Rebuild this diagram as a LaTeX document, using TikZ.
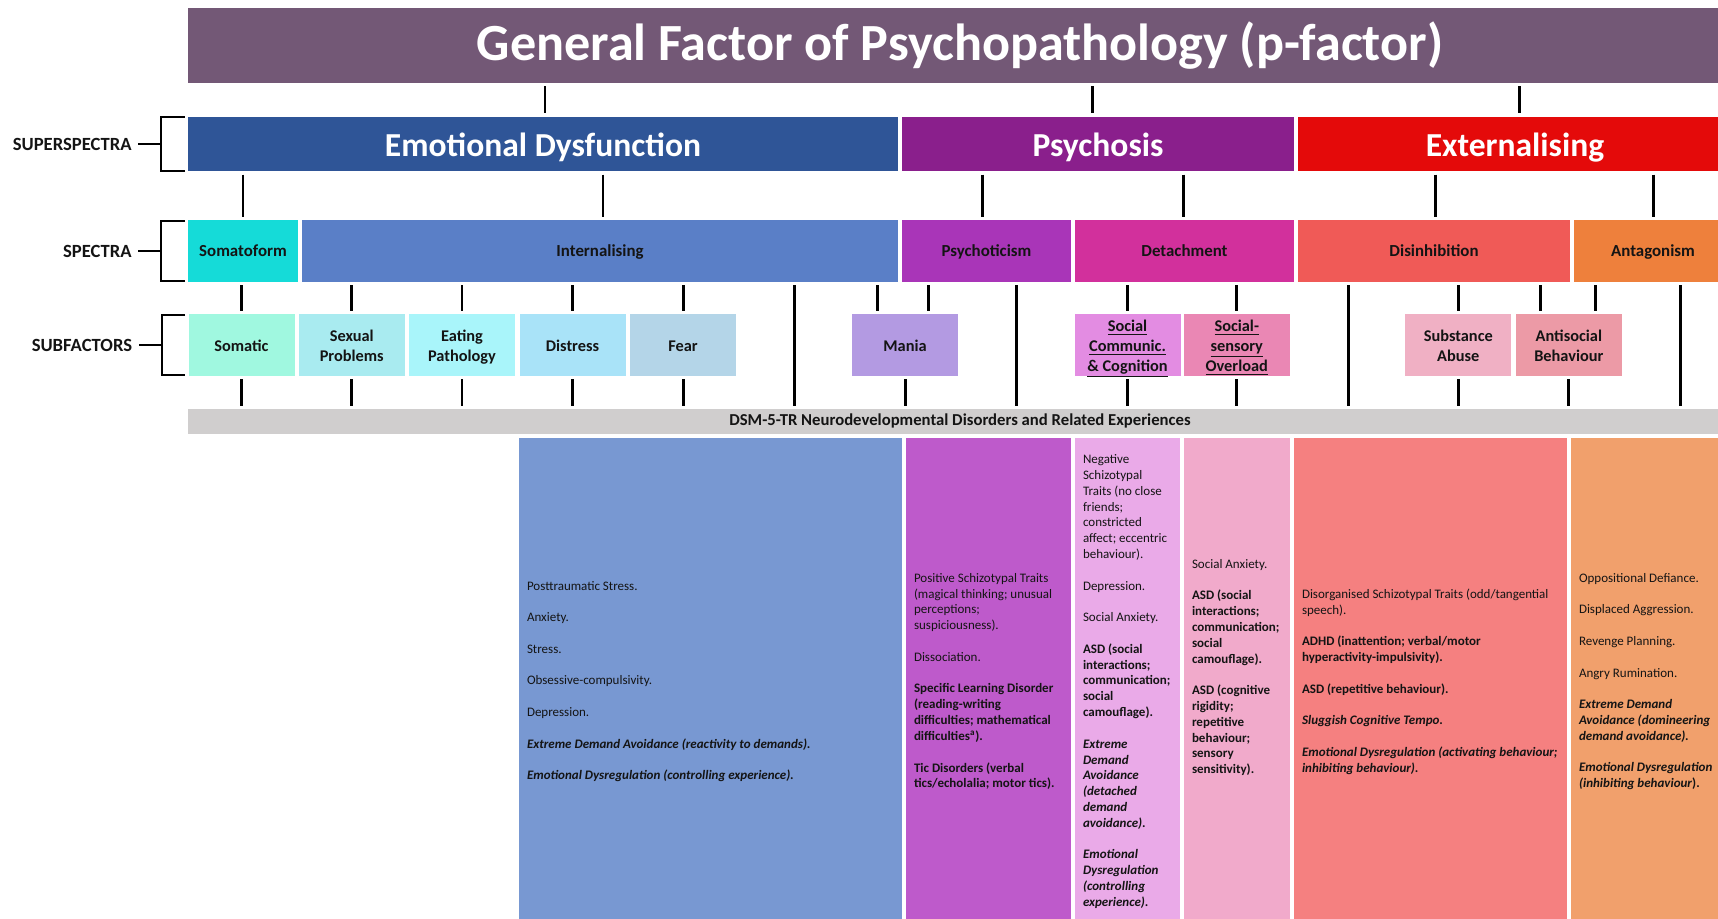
\documentclass[tikz,border=0pt]{standalone}
\usepackage{fontspec}
\setmainfont{Carlito}
\usetikzlibrary{calc}

\newlength\pxu
\setlength\pxu{0.02cm}

\definecolor{pfac}{HTML}{735876}
\definecolor{edc}{HTML}{2F5597}
\definecolor{psyc}{HTML}{8A1F8C}
\definecolor{extc}{HTML}{E40A0A}
\definecolor{somatoc}{HTML}{15DBD8}
\definecolor{internc}{HTML}{5A7FC7}
\definecolor{psyticc}{HTML}{A935B8}
\definecolor{detachc}{HTML}{D2309C}
\definecolor{disinhc}{HTML}{F05A57}
\definecolor{antagc}{HTML}{EE803C}
\definecolor{somaticc}{HTML}{A0F8E0}
\definecolor{sexc}{HTML}{A9EBF0}
\definecolor{eatc}{HTML}{A9F5FA}
\definecolor{distc}{HTML}{A9E3F8}
\definecolor{fearc}{HTML}{B4D5E8}
\definecolor{maniac}{HTML}{B39AE2}
\definecolor{soccomc}{HTML}{E38CE2}
\definecolor{socsenc}{HTML}{EA87B4}
\definecolor{substc}{HTML}{F0B0C4}
\definecolor{antisocc}{HTML}{EC9AA6}
\definecolor{dsmc}{HTML}{D0CECE}
\definecolor{colint}{HTML}{7898D2}
\definecolor{colpsy}{HTML}{BE5ACB}
\definecolor{coldet}{HTML}{EAAAE8}
\definecolor{colsen}{HTML}{F1AACB}
\definecolor{coldis}{HTML}{F58080}
\definecolor{colant}{HTML}{F1A06C}
\definecolor{txt}{HTML}{141414}

\tikzset{
  box/.style={rectangle, draw=none, inner sep=0pt, align=center},
  superbox/.style={box, minimum height=54.6\pxu, text=white, text height=14.5pt, text depth=0pt, font=\fontsize{19.1}{21}\selectfont\bfseries},
  specbox/.style={box, minimum height=61.4\pxu, text=txt, text depth=0pt, font=\fontsize{9.6}{11}\selectfont\bfseries},
  subbox/.style={box, minimum width=106\pxu, minimum height=61.7\pxu, text=txt, text height=7.7pt, text depth=0pt, font=\fontsize{9.3}{11.3}\selectfont\bfseries},
  twolines/.style={text height=19pt},
  threelines/.style={text height=30.3pt},
  colbox/.style={box, minimum height=487\pxu},
  coltext/.style={anchor=west, align=left, inner sep=0pt, text=txt, font=\fontsize{7.4}{9}\selectfont},
  link/.style={line width=1.7pt, shorten <=0.06cm, shorten >=0.06cm},
  brace/.style={line width=1.2pt},
  rowlabel/.style={left, inner sep=0pt, text=txt, font=\fontsize{10.6}{12}\selectfont\bfseries}
}

\begin{document}
\begin{tikzpicture}[x=0.02cm,y=-0.02cm]
\useasboundingbox (0,0) rectangle (1718,919);
\clip (0,0) rectangle (1718,919);

% top factor
\node[box, fill=pfac, minimum width=1544\pxu, minimum height=74.7\pxu, text=white, font=\fontsize{29.7}{32}\selectfont\bfseries] (pf) at (960,45.4) {General Factor of Psychopathology (p-factor)};

% superspectra
\node[superbox, fill=edc, minimum width=710\pxu] (ed) at (543,144) {Emotional Dysfunction};
\node[superbox, fill=psyc, minimum width=392\pxu] (psy) at (1098,144) {Psychosis};
\node[superbox, fill=extc, minimum width=434\pxu] (ext) at (1515,144) {Externalising};

% spectra
\node[specbox, fill=somatoc, minimum width=110\pxu] (somato) at (243,251) {Somatoform};
\node[specbox, fill=internc, minimum width=596\pxu] (intern) at (600,251) {Internalising};
\node[specbox, fill=psyticc, minimum width=169\pxu] (psytic) at (986.5,251) {Psychoticism};
\node[specbox, fill=detachc, minimum width=219\pxu] (detach) at (1184.5,251) {Detachment};
\node[specbox, fill=disinhc, minimum width=272\pxu] (disinh) at (1434,251) {Disinhibition};
\node[specbox, fill=antagc, minimum width=158\pxu] (antag) at (1653,251) {Antagonism};

% subfactors
\node[subbox, fill=somaticc] (somatic) at (241.5,345) {Somatic};
\node[subbox, twolines, fill=sexc] (sexual) at (351.75,345) {Sexual\\Problems};
\node[subbox, twolines, fill=eatc] (eating) at (462,345) {Eating\\Pathology};
\node[subbox, fill=distc] (distress) at (572.5,345) {Distress};
\node[subbox, fill=fearc] (fear) at (683,345) {Fear};
\node[subbox, fill=maniac] (mania) at (905,345) {Mania};
\node[subbox, threelines, fill=soccomc] (soccom) at (1127.5,345) {\underline{Social}\\\underline{Communic.}\\\underline{\& Cognition}};
\node[subbox, threelines, fill=socsenc] (socsen) at (1236.75,345) {\underline{Social-}\\\underline{sensory}\\\underline{Overload}};
\node[subbox, twolines, fill=substc] (subst) at (1458.3,345) {Substance\\Abuse};
\node[subbox, twolines, fill=antisocc] (antisoc) at (1568.85,345) {Antisocial\\Behaviour};

% neurodevelopmental bar
\node[box, fill=dsmc, minimum width=1544\pxu, minimum height=24.7\pxu, text=txt, font=\fontsize{9.5}{11}\selectfont\bfseries] (dsm) at (960,421.35) {DSM-5-TR Neurodevelopmental Disorders and Related Experiences};

% row brackets
\foreach \r/\lab in {ed/SUPERSPECTRA, somato/SPECTRA, somatic/SUBFACTORS} {
  \draw[brace] ($(\r.north west)+(-3,1)$) -| ($(\r.west)+(-26.5,0)$) |- ($(\r.south west)+(-3,-1)$);
  \draw[brace] ($(\r.west)+(-26.5,0)$) -- ++(-23,0) node[rowlabel, xshift=-5.5\pxu] {\lab};
}

% links between levels
\foreach \c/\dx in {ed/2, psy/-6, ext/4} {
  \coordinate (top) at ($(\c.north)+(\dx,0)$);
  \draw[link] (pf.south -| top) -- (top);
}
\foreach \p/\c/\dx in {ed/somato/0, ed/intern/3, psy/psytic/-4.5, psy/detach/-1.5, ext/disinh/1, ext/antag/0} {
  \coordinate (top) at ($(\c.north)+(\dx,0)$);
  \draw[link] (\p.south -| top) -- (top);
}
\foreach \p/\c in {somato/somatic, intern/sexual, intern/eating, intern/distress, intern/fear, detach/soccom, detach/socsen, disinh/subst}
  \draw[link] (\p.south -| \c.north) -- (\c.north);
\coordinate (maniaL) at ($(mania.north)+(-28,0)$);
\coordinate (maniaR) at ($(mania.north)+(23,0)$);
\coordinate (antisocL) at ($(antisoc.north)+(-28,0)$);
\coordinate (antisocR) at ($(antisoc.north)+(27,0)$);
\draw[link] (intern.south -| maniaL) -- (maniaL);
\draw[link] (psytic.south -| maniaR) -- (maniaR);
\draw[link] (disinh.south -| antisocL) -- (antisocL);
\draw[link] (antag.south -| antisocR) -- (antisocR);

% spectra straight to the bar
\coordinate (tapint) at ($(intern.south)+(194,0)$);
\coordinate (tappsy) at ($(psytic.south)+(29.5,0)$);
\coordinate (tapdis) at ($(disinh.south)+(-86,0)$);
\coordinate (tapant) at ($(antag.south)+(27,0)$);
\foreach \t in {tapint, tappsy, tapdis, tapant}
  \draw[link] (\t) -- (\t |- dsm.north);
\foreach \c in {somatic, sexual, eating, distress, fear, mania, soccom, socsen, subst, antisoc}
  \draw[link] (\c.south) -- (\c.south |- dsm.north);

% experience columns
\node[colbox, fill=colint, minimum width=383\pxu] (cint) at (710.5,681.5) {};
\node[colbox, fill=colpsy, minimum width=165\pxu] (cpsy) at (988.5,681.5) {};
\node[colbox, fill=coldet, minimum width=105\pxu] (cdet) at (1127.5,681.5) {};
\node[colbox, fill=colsen, minimum width=106\pxu] (csen) at (1237,681.5) {};
\node[colbox, fill=coldis, minimum width=273\pxu] (cdis) at (1430.5,681.5) {};
\node[colbox, fill=colant, minimum width=164\pxu] (cant) at (1653,681.5) {};

\node[coltext] (tint) at ($(cint.west)+(8,0)$) {Posttraumatic Stress.\\[9pt]
Anxiety.\\[9pt]
Stress.\\[9pt]
Obsessive-compulsivity.\\[9pt]
Depression.\\[9pt]
\textbf{\textit{Extreme Demand Avoidance (reactivity to demands).}}\\[9pt]
\textbf{\textit{Emotional Dysregulation (controlling experience).}}};

\node[coltext] (tpsy) at ($(cpsy.west)+(8,0)$) {Positive Schizotypal Traits\\
(magical thinking; unusual\\
perceptions;\\
suspiciousness).\\[9pt]
Dissociation.\\[9pt]
\textbf{Specific Learning Disorder}\\
\textbf{(reading-writing}\\
\textbf{difficulties; mathematical}\\
\textbf{difficulties\textsuperscript{a}).}\\[9pt]
\textbf{Tic Disorders (verbal}\\
\textbf{tics/echolalia; motor tics).}};

\node[coltext] (tdet) at ($(cdet.west)+(8,0)$) {Negative\\
Schizotypal\\
Traits (no close\\
friends;\\
constricted\\
affect; eccentric\\
behaviour).\\[9pt]
Depression.\\[9pt]
Social Anxiety.\\[9pt]
\textbf{ASD (social}\\
\textbf{interactions;}\\
\textbf{communication;}\\
\textbf{social}\\
\textbf{camouflage).}\\[9pt]
\textbf{\textit{Extreme}}\\
\textbf{\textit{Demand}}\\
\textbf{\textit{Avoidance}}\\
\textbf{\textit{(detached}}\\
\textbf{\textit{demand}}\\
\textbf{\textit{avoidance).}}\\[9pt]
\textbf{\textit{Emotional}}\\
\textbf{\textit{Dysregulation}}\\
\textbf{\textit{(controlling}}\\
\textbf{\textit{experience).}}};

\node[coltext] (tsen) at ($(csen.west)+(8,-14)$) {Social Anxiety.\\[9pt]
\textbf{ASD (social}\\
\textbf{interactions;}\\
\textbf{communication;}\\
\textbf{social}\\
\textbf{camouflage).}\\[9pt]
\textbf{ASD (cognitive}\\
\textbf{rigidity;}\\
\textbf{repetitive}\\
\textbf{behaviour;}\\
\textbf{sensory}\\
\textbf{sensitivity).}};

\node[coltext] (tdis) at ($(cdis.west)+(8,0)$) {Disorganised Schizotypal Traits (odd/tangential\\
speech).\\[9pt]
\textbf{ADHD (inattention; verbal/motor}\\
\textbf{hyperactivity-impulsivity).}\\[9pt]
\textbf{ASD (repetitive behaviour).}\\[9pt]
\textbf{\textit{Sluggish Cognitive Tempo.}}\\[9pt]
\textbf{\textit{Emotional Dysregulation (activating behaviour;}}\\
\textbf{\textit{inhibiting behaviour).}}};

\node[coltext] (tant) at ($(cant.west)+(8,0)$) {Oppositional Defiance.\\[9pt]
Displaced Aggression.\\[9pt]
Revenge Planning.\\[9pt]
Angry Rumination.\\[9pt]
\textbf{\textit{Extreme Demand}}\\
\textbf{\textit{Avoidance (domineering}}\\
\textbf{\textit{demand avoidance).}}\\[9pt]
\textbf{\textit{Emotional Dysregulation}}\\
\textbf{\textit{(inhibiting behaviour}).}};
\end{tikzpicture}
\end{document}
